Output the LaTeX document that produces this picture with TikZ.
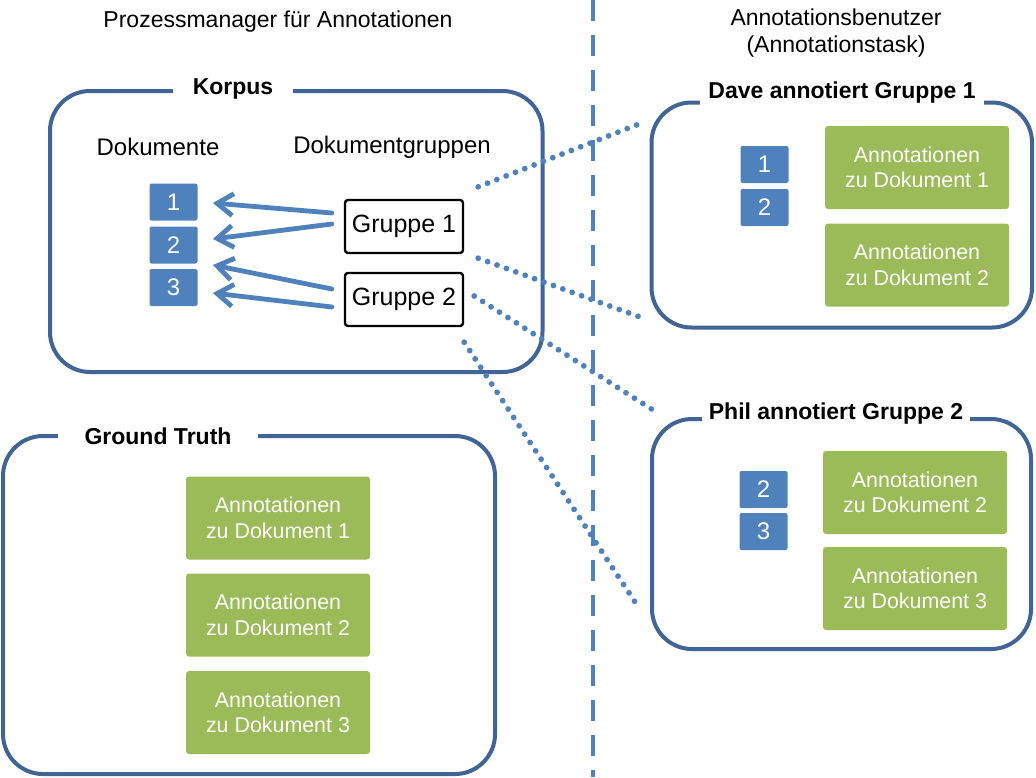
\documentclass[tikz,border=0pt]{standalone}
\usepackage{fontspec}
\setmainfont{Liberation Sans}
\usepackage{tikz}
\usepackage{xcolor}
\usetikzlibrary{arrows.meta,calc}
\definecolor{rahmen}{RGB}{65,100,150}
\definecolor{dokblau}{RGB}{79,129,189}
\definecolor{annogruen}{RGB}{155,187,89}

\begin{document}
\begin{tikzpicture}[x=0.5pt,y=-0.5pt,
            frame/.style={draw=rahmen,line width=2pt,rounded corners=20pt,inner sep=0pt},
            titel/.style={fill=white,inner ysep=1pt,font=\fontsize{11.5}{13}\selectfont\bfseries},
            doc/.style={fill=dokblau,text=white,rounded corners=1pt,minimum width=24pt,minimum height=18.5pt,inner sep=0pt,font=\fontsize{12}{14}\selectfont},
            anno/.style={fill=annogruen,text=white,rounded corners=1.5pt,minimum width=92pt,minimum height=41.5pt,inner sep=0pt,align=center,font=\fontsize{10.7}{12.7}\selectfont},
            grp/.style={draw,line width=1.2pt,rounded corners=1.5pt,minimum width=59pt,minimum height=26.5pt,inner sep=0pt,font=\fontsize{12.5}{14}\selectfont},
            pfeil/.style={draw=dokblau,line width=2.4pt,line cap=round,-{Straight Barb[length=8pt,width=11pt]}},
            punkte/.style={draw=dokblau,line width=2.9pt,line cap=round,dash pattern=on 0pt off 5pt},
            trenner/.style={draw=dokblau,line width=2.3pt,dash pattern=on 10.5pt off 7pt},
            kopf/.style={font=\fontsize{11.5}{13.5}\selectfont,align=center}]

            \useasboundingbox (0,0) rectangle (1036,777);

            % Kopfzeilen
            \node (hpm) at (278,22) [kopf] {Prozessmanager für Annotationen};
            \node (hab) at (836,33) [kopf] {Annotationsbenutzer\\(Annotationstask)};

            % Rahmen
            \node (korpus) at (296.25,231.5) [frame,minimum width=246.25pt,minimum height=140.5pt] {};
            \node (gt) at (249,605) [frame,minimum width=246pt,minimum height=169pt] {};
            \node (dave) at (841.75,215) [frame,minimum width=190.25pt,minimum height=112.5pt] {};
            \node (phil) at (841.5,534) [frame,minimum width=189.5pt,minimum height=115pt] {};

            \node (tk) at (233,89) [titel,minimum width=60pt] {Korpus};
            \node (tg) at (158,436) [titel,minimum width=100pt] {Ground Truth};
            \node (td) at (842,93) [titel,minimum width=142pt] {Dave annotiert Gruppe 1};
            \node (tp) at (836,414) [titel,minimum width=132pt] {Phil annotiert Gruppe 2};

            % Korpus
            \node (ldok) at (158,147) [font=\fontsize{12}{14}\selectfont] {Dokumente};
            \node (lgrp) at (392,147) [font=\fontsize{12}{14}\selectfont] {Dokumentgruppen};

            \node (d1) at (173.5,202) [doc] {1};
            \node (d2) at (173.5,245) [doc] {2};
            \node (d3) at (173.5,287.5) [doc] {3};

            \node (g1) at (404,226.5) [grp] {Gruppe 1};
            \node (g2) at (404,299.5) [grp] {Gruppe 2};

            \draw[pfeil] ($(g1.west)+(-12,-13.5)$) -- ($(d1.east)+(15,1)$);
            \draw[pfeil] ($(g1.west)+(-12,-2.5)$) -- ($(d2.east)+(15,-6)$);
            \draw[pfeil] ($(g2.west)+(-12,-10.5)$) -- ($(d2.east)+(15,20)$);
            \draw[pfeil] ($(g2.west)+(-12,7.5)$) -- ($(d3.east)+(15,5.5)$);

            % Ground Truth
            \node (gt1) at (278,518) [anno] {Annotationen\\zu Dokument 1};
            \node (gt2) at (278,615) [anno] {Annotationen\\zu Dokument 2};
            \node (gt3) at (278,712.5) [anno] {Annotationen\\zu Dokument 3};

            % Dave
            \node (dd1) at (764.5,164.5) [doc] {1};
            \node (dd2) at (764.5,207.5) [doc] {2};
            \node (da1) at (917,167.5) [anno] {Annotationen\\zu Dokument 1};
            \node (da2) at (917,265) [anno] {Annotationen\\zu Dokument 2};

            % Phil
            \node (pd2) at (763.5,489.5) [doc] {2};
            \node (pd3) at (763.5,531.5) [doc] {3};
            \node (pa2) at (915,492.5) [anno] {Annotationen\\zu Dokument 2};
            \node (pa3) at (915,588.5) [anno] {Annotationen\\zu Dokument 3};

            % Trennlinie
            \coordinate (oben) at (593,0);
            \coordinate (unten) at (593,777);
            \draw[trenner] (oben) -- (unten);

            % Zuordnung der Gruppen
            \draw[punkte] ($(g1.north east)+(14,-12)$) -- ($(dave.north west)+(-10.5,23.5)$);
            \draw[punkte] ($(g1.south east)+(14,4)$) -- ($(dave.south west)+(-9.5,-12.5)$);
            \draw[punkte] ($(g2.east)+(10,-3.5)$) -- ($(phil.north west)+(3,-7)$);
            \draw[punkte] ($(g2.south east)+(0,15)$) -- ($(phil.south west)+(-13,-46)$);

        \end{tikzpicture}
\end{document}
